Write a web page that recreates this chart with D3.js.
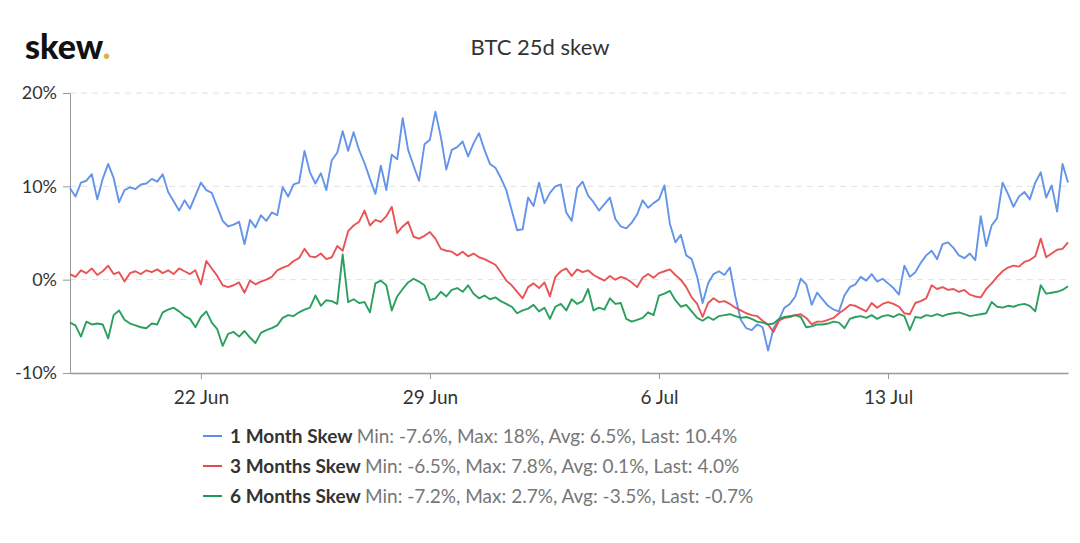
<!DOCTYPE html>
<html>
<head>
<meta charset="utf-8">
<script src="https://cdn.jsdelivr.net/npm/d3@7"></script>
<style>
  html, body { margin: 0; padding: 0; background: #fff; }
  svg { display: block; font-family: Lato, "Open Sans", sans-serif; }
</style>
</head>
<body>
<svg id="chart" width="1080" height="543"></svg>
<script>
// ---------- DATA ----------
const startTime = Date.UTC(2020, 5, 18, 0, 0); // 18 Jun 2020, samples every 4 hours
const stepHours = 4;

const seriesNames = ["1 Month Skew", "3 Months Skew", "6 Months Skew"];
const seriesColors = ["#5b8ee8", "#e84a4c", "#1f9a55"];
const statMin = ["-7.6%", "-6.5%", "-7.2%"];
const statMax = ["18%", "7.8%", "2.7%"];
const statAvg = ["6.5%", "0.1%", "-3.5%"];
const statLast = ["10.4%", "4.0%", "-0.7%"];

const yTicks = [-10, 0, 10, 20];
const xTickDates = ["2020-06-22", "2020-06-29", "2020-07-06", "2020-07-13"];

const skew1M = [
  9.8, 8.9, 10.4, 10.6, 11.3, 8.6,
  10.8, 12.4, 10.9, 8.3, 9.6, 9.9,
  9.7, 10.2, 10.3, 10.8, 10.5, 11.3,
  9.4, 8.4, 7.4, 8.5, 7.6, 9.0,
  10.4, 9.6, 9.3, 7.8, 6.3, 5.7,
  5.9, 6.2, 3.8, 6.4, 5.6, 6.9,
  6.3, 7.2, 6.9, 9.9, 8.9, 10.2,
  10.4, 13.8, 11.5, 10.3, 11.4, 9.6,
  12.8, 13.6, 15.9, 13.8, 15.8, 13.9,
  12.5, 10.8, 9.2, 12.2, 9.6, 13.4,
  12.9, 17.3, 13.9, 12.2, 10.6, 14.5,
  15.0, 18.0, 15.3, 11.8, 13.9, 14.2,
  14.8, 13.2, 14.6, 15.7, 13.9, 12.4,
  12.0, 10.9, 9.6, 7.4, 5.3, 5.4,
  8.8, 7.9, 10.4, 8.2, 9.3, 10.0,
  10.2, 7.2, 6.3, 9.8, 10.5, 9.0,
  8.3, 7.4, 8.1, 8.8, 6.5, 5.7,
  5.5, 6.1, 7.0, 8.5, 7.7, 8.2,
  8.6, 10.1, 6.0, 4.0, 4.8, 2.6,
  2.2, 0.3, -2.5, -0.4, 0.6, 0.9,
  0.5, 1.3, -1.8, -4.3, -5.2, -5.4,
  -4.8, -5.1, -7.6, -5.2, -4.3, -3.0,
  -2.6, -1.8, 0.1, -0.5, -2.7, -1.4,
  -2.1, -2.8, -3.2, -3.4, -1.7, -0.8,
  -0.5, 0.3, -0.1, 0.6, -0.2, 0.1,
  -0.4, -0.9, -1.6, 1.5, 0.3, 0.8,
  1.8, 2.6, 3.1, 2.2, 3.8, 4.0,
  3.4, 2.6, 2.3, 2.8, 2.1, 6.8,
  3.6, 5.8, 6.6, 10.4, 9.2, 7.8,
  8.9, 9.4, 8.6, 10.4, 11.5, 8.8,
  10.1, 7.3, 12.4, 10.4
];

const skew3M = [
  0.6, 0.3, 1.0, 0.7, 1.2, 0.5,
  0.9, 1.5, 0.6, 0.8, -0.2, 0.7,
  0.9, 0.6, 1.0, 0.8, 1.1, 0.7,
  1.0, 0.6, 1.2, 0.9, 0.6, 1.0,
  -0.5, 2.0, 1.2, 0.4, -0.6, -0.8,
  -0.6, -0.3, -1.4, -0.1, -0.5, -0.2,
  0.0, 0.3, 1.0, 1.3, 1.5, 2.0,
  2.3, 3.3, 2.5, 2.4, 2.8, 2.2,
  2.4, 3.6, 3.1, 5.2, 5.8, 6.2,
  7.4, 5.8, 6.4, 6.2, 6.8, 7.8,
  5.0, 5.7, 6.2, 4.6, 4.4, 4.7,
  5.1, 4.4, 3.3, 3.1, 3.0, 2.6,
  3.0, 2.5, 2.8, 2.4, 2.2, 1.9,
  1.6, 0.8, -0.1, -0.6, -1.3, -2.0,
  -0.8, -0.4, -0.9, -0.3, -1.8, 0.3,
  0.9, 1.2, 0.4, 1.1, 0.8, 1.0,
  0.5, 0.2, -0.1, 0.4, 0.0, 0.3,
  0.1, -0.3, -0.8, 0.2, 0.6, 0.2,
  0.7, 0.9, 1.1, 0.5, 0.0, -0.8,
  -1.9, -2.6, -4.0, -2.5, -2.0, -2.4,
  -2.3, -2.6, -3.0, -3.3, -3.6, -3.8,
  -3.9, -4.4, -4.8, -5.6, -4.4, -4.1,
  -4.0, -3.8, -3.7, -4.1, -4.8, -4.5,
  -4.5, -4.3, -4.1, -3.6, -3.2, -2.7,
  -2.8, -3.1, -3.4, -2.5, -3.0, -2.6,
  -2.4, -2.6, -2.9, -3.6, -3.7, -2.5,
  -2.3, -2.0, -0.6, -1.0, -0.8, -1.1,
  -1.0, -1.3, -1.1, -1.6, -1.8, -1.9,
  -1.0, -0.4, 0.3, 0.9, 1.3, 1.5,
  1.4, 1.9, 2.1, 2.5, 4.4, 2.4,
  2.8, 3.2, 3.3, 4.0
];

const skew6M = [
  -4.6, -4.9, -6.1, -4.5, -4.8, -4.7,
  -4.8, -6.3, -3.8, -3.3, -4.3, -4.7,
  -4.9, -5.1, -5.2, -4.7, -4.8, -3.5,
  -3.2, -3.0, -3.4, -3.9, -4.2, -5.1,
  -4.0, -3.4, -4.6, -5.3, -7.1, -5.8,
  -5.6, -6.1, -5.5, -6.2, -6.8, -5.7,
  -5.4, -5.2, -4.9, -4.1, -3.8, -3.9,
  -3.5, -3.2, -3.0, -1.7, -2.8, -2.2,
  -2.3, -2.6, 2.7, -2.4, -2.1, -2.5,
  -2.4, -3.5, -0.4, -0.1, -0.6, -3.3,
  -1.8, -1.0, -0.3, 0.1, -0.2, -0.6,
  -2.2, -2.0, -1.3, -1.8, -1.1, -0.9,
  -1.3, -0.6, -1.5, -2.0, -1.7, -2.1,
  -1.9, -2.3, -2.6, -2.9, -3.6, -3.3,
  -3.1, -2.7, -3.4, -3.0, -4.2, -2.9,
  -2.6, -3.3, -2.1, -2.6, -2.3, -1.0,
  -3.3, -3.0, -3.2, -2.0, -2.6, -2.5,
  -4.2, -4.5, -4.3, -4.1, -3.5, -3.8,
  -1.7, -1.5, -1.2, -2.2, -2.9, -2.7,
  -3.4, -4.1, -4.4, -4.0, -4.3, -3.9,
  -3.8, -3.7, -3.9, -4.1, -4.0, -4.2,
  -4.5, -4.6, -4.8, -4.7, -4.2, -4.0,
  -3.9, -3.8, -4.0, -5.1, -5.0, -4.8,
  -4.8, -4.7, -4.5, -4.6, -5.2, -4.2,
  -4.0, -3.9, -4.1, -3.8, -4.2, -3.9,
  -3.8, -4.0, -3.7, -3.9, -5.4, -4.0,
  -4.1, -3.8, -3.9, -3.7, -3.9, -3.7,
  -3.6, -3.5, -3.7, -3.9, -3.8, -3.7,
  -3.6, -2.4, -2.9, -3.0, -2.8, -2.9,
  -2.7, -2.6, -2.8, -3.4, -0.6, -1.5,
  -1.4, -1.3, -1.1, -0.7
];

const allSeries = [skew1M, skew3M, skew6M];

// ---------- CHART ----------
const svg = d3.select("#chart");
const margin = { left: 70, right: 1068, top: 93, bottom: 373 };

const timeAt = i => new Date(startTime + i * stepHours * 3600 * 1000);
const nPts = skew1M.length;

const x = d3.scaleUtc()
  .domain([timeAt(0), timeAt(nPts - 1)])
  .range([margin.left, margin.right]);
const y = d3.scaleLinear().domain([-10, 20]).range([margin.bottom, margin.top]);

// logo
const logo = svg.append("text").attr("x", 25).attr("y", 59)
  .style("font-family", "Lato, sans-serif").style("font-weight", 900)
  .style("font-size", "34px").attr("fill", "#111");
logo.append("tspan").text("skew");
logo.append("tspan").attr("fill", "#e0b04a").text(".");

// title
svg.append("text").attr("x", 540).attr("y", 55).attr("text-anchor", "middle")
  .style("font-size", "22px").attr("fill", "#333").text("BTC 25d skew");

// gridlines
svg.append("g").selectAll("line").data(yTicks.filter(t => t > -10)).join("line")
  .attr("x1", margin.left).attr("x2", margin.right)
  .attr("y1", d => y(d)).attr("y2", d => y(d))
  .attr("stroke", "#e0e0e0").attr("stroke-width", 1).attr("stroke-dasharray", "6,5");

// y axis
const yAxis = d3.axisLeft(y).tickValues(yTicks).tickFormat(d => d + "%").tickSize(7).tickPadding(6);
const gy = svg.append("g").attr("transform", `translate(${margin.left},0)`).call(yAxis);
gy.select(".domain").attr("stroke", "#999");
gy.selectAll(".tick line").attr("stroke", "#999");
gy.selectAll(".tick text").attr("fill", "#333").style("font-size", "18px").style("font-family", "Lato, sans-serif");

// x axis
const xAxis = d3.axisBottom(x)
  .tickValues(xTickDates.map(s => new Date(s + "T00:00:00Z")))
  .tickFormat(d3.utcFormat("%-d %b")).tickSize(6).tickPadding(12).tickSizeOuter(0);
const gx = svg.append("g").attr("transform", `translate(0,${margin.bottom})`).call(xAxis);
gx.select(".domain").attr("stroke", "#999").attr("stroke-width", 1.5);
gx.selectAll(".tick line").attr("stroke", "#999");
gx.selectAll(".tick text").attr("fill", "#333").style("font-size", "19px").style("font-family", "Lato, sans-serif");

// lines
const line = d3.line().x((d, i) => x(timeAt(i))).y(d => y(d));
svg.append("g").selectAll("path").data(allSeries).join("path")
  .attr("d", d => line(d))
  .attr("fill", "none")
  .attr("stroke", (d, i) => seriesColors[i])
  .attr("stroke-width", 1.9)
  .attr("stroke-linejoin", "round")
  .attr("opacity", 0.95);

// legend
const legend = svg.append("g");
seriesNames.forEach((name, i) => {
  const cy = 436 + i * 30;
  legend.append("line").attr("x1", 203).attr("x2", 222).attr("y1", cy).attr("y2", cy)
    .attr("stroke", seriesColors[i]).attr("stroke-width", 2);
  const t = legend.append("text").attr("x", 230).attr("y", cy + 7)
    .style("font-size", "19px");
  t.append("tspan").attr("fill", "#333").style("font-weight", 700).text(name + " ");
  t.append("tspan").attr("fill", "#777")
    .text(`Min: ${statMin[i]}, Max: ${statMax[i]}, Avg: ${statAvg[i]}, Last: ${statLast[i]}`);
});
</script>
</body>
</html>
